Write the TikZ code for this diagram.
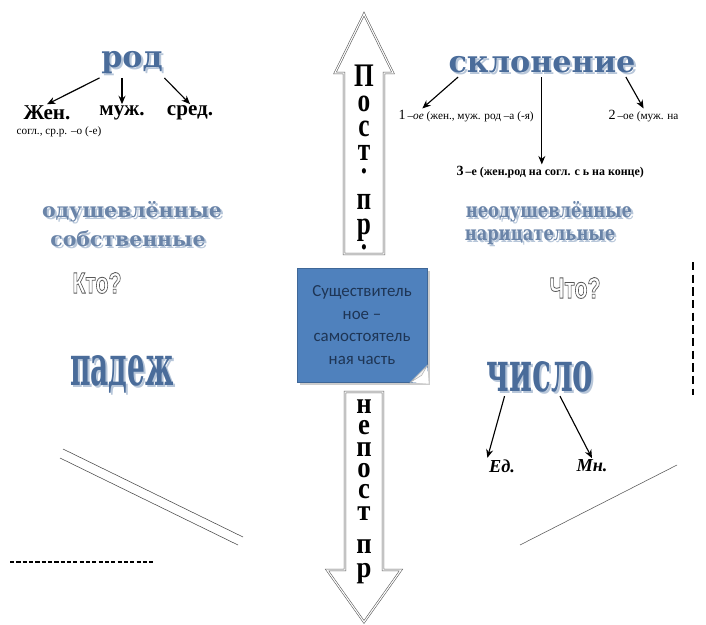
\documentclass[tikz,border=0pt]{standalone}
\usepackage{fontspec}
\setmainfont{Liberation Serif}
\newfontfamily\wordfont{DejaVu Serif}
\newfontfamily\boxfont{Carlito}
\newfontfamily\askfont{Liberation Sans}
\usetikzlibrary{arrows.meta,shadows}

\definecolor{wordblue}{HTML}{4A6C9A}
\definecolor{wordshade}{HTML}{B7C6D9}
\definecolor{paleblue}{HTML}{6A84A8}
\definecolor{boxblue}{HTML}{4F81BD}
\definecolor{boxtext}{HTML}{1E3555}
\definecolor{outline}{HTML}{555555}

\newcommand\shadowed[1]{\makebox[0pt][l]{\hspace{1.5pt}\raisebox{-1.5pt}{\textcolor{wordshade}{#1}}}#1}
\newcommand\hollow[1]{\special{pdf:code 1 Tr 0.6 w}#1\special{pdf:code 0 Tr}}

\tikzset{
  bigword/.style={text=wordblue, font=\wordfont\bfseries\fontsize{21.5}{21.5}\selectfont, inner sep=1pt},
  tallword/.style={text=wordblue, font=\wordfont\bfseries\fontsize{40}{40}\selectfont, inner sep=1pt},
  paleword/.style={text=paleblue, font=\wordfont\bfseries\fontsize{14.5}{14.5}\selectfont, inner sep=1pt},
  leaf/.style={font=\bfseries\fontsize{15}{15}\selectfont, inner sep=1pt},
  note/.style={font=\fontsize{8}{8}\selectfont, inner sep=1pt},
  ask/.style={text=gray!70!black, font=\askfont\bfseries\fontsize{21}{21}\selectfont},
  stack/.style={anchor=north, inner sep=0pt},
  link/.style={-{Stealth[length=6pt,width=5pt]}, thick},
  blockarrow/.style={draw=outline, double=white, double distance=0.8pt, fill=white},
}

\begin{document}
\begin{tikzpicture}[x=0.025cm, y=-0.025cm]
\useasboundingbox (0,0) rectangle (706,625);

% block arrows
\draw[blockarrow] (344,254) -- (344,73) -- (335,73) -- (364,14) -- (393,73)
      -- (384,73) -- (384,254) -- cycle;
\draw[blockarrow] (345,392) -- (345,570) -- (327,570) -- (364,622) -- (401,570)
      -- (383,570) -- (383,392) -- cycle;
\node (post) [stack, font=\bfseries\fontsize{18}{13.5}\selectfont] at (364,65)
      {\scalebox{1}[1.3]{\begin{tabular}{@{}c@{}}П\\о\\с\\т\\[-6.4pt].\\[6pt]п\\р\\[-5.3pt].\end{tabular}}};
\node (nepost) [stack, font=\bfseries\fontsize{19}{13.6}\selectfont] at (364,398)
      {\scalebox{1}[1.12]{\begin{tabular}{@{}c@{}}н\\е\\п\\о\\с\\т\\[7.3pt]п\\[2pt]р\end{tabular}}};

% centre
\node (noun) [font=\boxfont\fontsize{12}{16}\selectfont, text=boxtext, align=center,
      fill=boxblue, draw=boxblue!80!black, minimum width=3.25cm, minimum height=2.85cm,
      drop shadow={shadow xshift=2pt, shadow yshift=-2pt, opacity=0.4}]
      at (362,325) {Существитель\\ное –\\самостоятель\\ная часть};
\fill[white] ([yshift=12pt]noun.south east) -- ([xshift=1pt,yshift=-1pt]noun.south east)
      -- ([xshift=-12pt]noun.south east) -- cycle;
\filldraw[fill=gray!10, draw=gray!60] ([yshift=12pt]noun.south east)
      -- ([xshift=-12pt]noun.south east) -- ([xshift=-4pt,yshift=5pt]noun.south east) -- cycle;

% род
\node (rod) [bigword] at (132,64) {\shadowed{род}};
\node (zhen) [leaf] at (47,113) {Жен.};
\node (muzh) [leaf] at (122,113) {муж.};
\node (sred) [leaf] at (190,113) {сред.};
\node (soglrod) [note, anchor=west] at (15,132) {согл., ср.р. –о (-е)};
\draw[link] (rod.south west) -- (zhen.north);
\draw[link] (muzh.north |- rod.south) -- (muzh.north);
\draw[link] (rod.south east) -- (sred.north);

% склонение
\node (skl) [bigword] at (542,66) {\shadowed{склонение}};
\node (skl1) [note, anchor=west] at (397,116) {{\fontsize{10}{10}\selectfont 1}\,–\textit{ое} (жен., муж. род –а (-я)};
\node (skl2) [note, anchor=west] at (607,116) {{\fontsize{10}{10}\selectfont 2}\,–ое (муж. на};
\node (skl3) [note, font=\bfseries\fontsize{8.5}{8.5}\selectfont, anchor=west] at (455,172)
      {{\fontsize{10}{10}\selectfont 3}\,–е (жен.род на согл. с ь на конце)};
\draw[link] ([xshift=8pt]skl.south west) -- ([xshift=18pt]skl1.north west);
\draw[link] ([xshift=-6pt]skl.south -| skl3.north) -- ([xshift=-6pt]skl3.north);
\draw[link] ([xshift=-8pt]skl.south east) -- (skl2.north);

% одушевлённые / неодушевлённые
\node (anim) [paleword] at (132,213) {\shadowed{одушевлённые}};
\node (proper) [paleword] at (128,240) {\shadowed{собственные}};
\node (inanim) [paleword] at (549,213) {\shadowed{\scalebox{0.8}[1]{неодушевлённые}}};
\node (common) [paleword] at (540,238) {\shadowed{\scalebox{0.8}[1]{нарицательные}}};
\node (who) [ask] at (97,283) {\scalebox{0.72}[1]{\hollow{Кто?}}};
\node (what) [ask] at (575,288) {\scalebox{0.72}[1]{\hollow{Что?}}};

% падеж, число
\node (case) [tallword] at (122,375) {\shadowed{\scalebox{0.5}[1]{падеж}}};
\node (number) [tallword] at (540,378) {\shadowed{\scalebox{0.55}[1]{число}}};
\node (sing) [leaf, font=\bfseries\itshape\fontsize{13}{13}\selectfont] at (502,466) {Ед.};
\node (plur) [leaf, font=\bfseries\itshape\fontsize{13}{13}\selectfont] at (592,466) {Мн.};
\draw[link] ([xshift=14pt]number.south west) -- (sing.north west);
\draw[link] ([xshift=-25pt]number.south east) -- (plur.north);

% lines
\draw[gray!60!black] (63,449) -- (243,537);
\draw[gray!60!black] (60,458) -- (238,545);
\draw[dash pattern=on 3pt off 1.5pt, line width=0.8pt] (10,562) -- (153,562);
\draw[gray!70!black] (520,545) -- (677,465);
\draw[dash pattern=on 6pt off 3pt, line width=1.2pt] (693,262) -- (693,395);

\end{tikzpicture}
\end{document}
